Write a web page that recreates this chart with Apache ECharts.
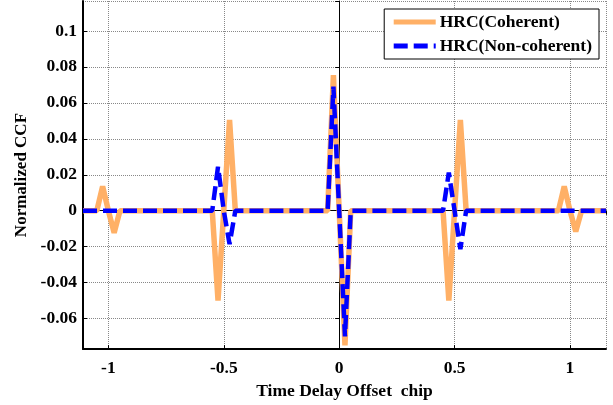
<!DOCTYPE html>
<html>
<head>
<meta charset="utf-8">
<script src="https://cdn.jsdelivr.net/npm/echarts@6/dist/echarts.min.js"></script>
<style>
  html, body { margin: 0; padding: 0; background: #fff; }
  #chart { width: 613px; height: 405px; }
</style>
</head>
<body>
<div id="chart"></div>
<script>
// time delay offset (chip)
const delays = [-1.11, -1.05, -1.025, -1.0, -0.975, -0.95,
    -0.55, -0.525, -0.5, -0.475, -0.45,
    -0.05, -0.025, 0, 0.025, 0.05,
    0.45, 0.475, 0.5, 0.525, 0.55,
    0.95, 0.975, 1.0, 1.025, 1.05, 1.156];
const coherent = [0, 0, 0.0135, 0, -0.0123, 0,
    0, -0.050, 0, 0.0505, 0,
    0, 0.0755, 0, -0.075, 0,
    0, -0.050, 0, 0.0505, 0,
    0, 0.0136, 0, -0.0115, 0, 0];
const nonCoherent = [0, 0, 0, 0, 0, 0,
    0, 0.0245, 0, -0.0186, 0,
    0, 0.069, 0, -0.070, 0,
    0, 0.0212, 0, -0.0214, 0,
    0, 0, 0, 0, 0, 0];

const font = 'Liberation Serif';
const txt = size => ({ fontFamily: font, fontWeight: 'bold', fontSize: size, color: '#000' });
const pairs = arr => delays.map((x, i) => [x, arr[i]]);

const chart = echarts.init(document.getElementById('chart'));
chart.setOption({
    animation: false,
    grid: { left: 83, right: 7, top: 1, bottom: 47, containLabel: false },
    legend: {
        orient: 'vertical',
        right: 14, top: 9,
        itemWidth: 42, itemHeight: 14, itemGap: 6,
        padding: [4, 7, 4, 7],
        backgroundColor: '#fff',
        borderColor: '#000', borderWidth: 1, borderRadius: 0,
        itemStyle: { opacity: 0 },
        lineStyle: { width: 5 },
        textStyle: Object.assign(txt(17.5), { padding: [0, 0, 0, -1] }),
        data: ['HRC(Coherent)', 'HRC(Non-coherent)']
    },
    xAxis: [{
        type: 'value', min: -1.11, max: 1.156,
        name: 'Time Delay Offset  chip',
        nameLocation: 'middle', nameGap: 30,
        nameTextStyle: txt(17.5),
        axisLine: { onZero: false, lineStyle: { color: '#000', width: 2 } },
        axisTick: { inside: true, length: 4, lineStyle: { color: '#000' } },
        axisLabel: Object.assign({ showMinLabel: false, showMaxLabel: false, margin: 10 }, txt(17.5)),
        splitLine: { show: true, lineStyle: { type: 'dotted', color: '#888', width: 1 } }
    }, {
        type: 'value', min: -1.11, max: 1.156, position: 'top',
        axisLine: { lineStyle: { color: '#000', width: 1 } },
        axisTick: { inside: true, length: 4, lineStyle: { color: '#000' } },
        axisLabel: { show: false }, splitLine: { show: false }
    }],
    yAxis: [{
        type: 'value', min: -0.077, max: 0.1167, splitNumber: 10,
        name: 'Normalized CCF',
        nameLocation: 'middle', nameGap: 52,
        nameTextStyle: txt(17),
        axisLine: { show: true, onZero: false, lineStyle: { color: '#000', width: 2 } },
        axisTick: { show: true, inside: true, length: 4, lineStyle: { color: '#000' } },
        axisLabel: Object.assign({ showMinLabel: false, showMaxLabel: false, margin: 6 }, txt(17.5)),
        splitLine: { show: true, lineStyle: { type: 'dotted', color: '#888', width: 1 } }
    }, {
        type: 'value', min: -0.077, max: 0.1167, splitNumber: 10, position: 'right',
        axisLine: { show: true, lineStyle: { color: '#000', width: 1 } },
        axisTick: { show: true, inside: true, length: 4, lineStyle: { color: '#000' } },
        axisLabel: { show: false }, splitLine: { show: false }
    }],
    series: [{
        name: 'HRC(Coherent)',
        type: 'line',
        data: pairs(coherent),
        symbol: 'none',
        color: '#FFB066',
        lineStyle: { color: '#FFB066', width: 5.5 },
        z: 2
    }, {
        name: 'HRC(Non-coherent)',
        type: 'line',
        data: pairs(nonCoherent),
        symbol: 'none',
        color: '#0000FF',
        lineStyle: { color: '#0000FF', width: 4.5, type: [14, 6] },
        z: 3
    }]
});
</script>
</body>
</html>
